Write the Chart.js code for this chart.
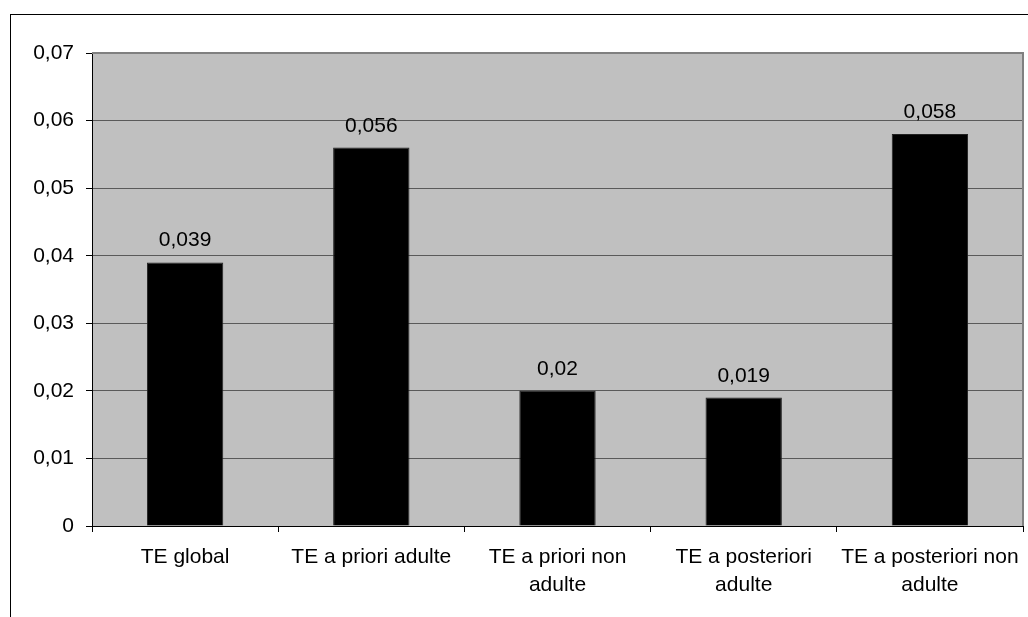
<!DOCTYPE html>
<html>
<head>
<meta charset="utf-8">
<script src="https://cdn.jsdelivr.net/npm/chart.js@4"></script>
<style>
  html, body { margin: 0; padding: 0; background: #fff; }
</style>
</head>
<body>
<canvas id="myChart" width="1028" height="617"></canvas>
<script>
var categories = [
    "TE global",
    "TE a priori adulte",
    ["TE a priori non", "adulte"],
    ["TE a posteriori", "adulte"],
    ["TE a posteriori non", "adulte"]
];
var values = [0.039, 0.056, 0.02, 0.019, 0.058];
var yTicks = [0, 0.01, 0.02, 0.03, 0.04, 0.05, 0.06, 0.07];

var fontFamily = "'Liberation Sans', Arial, sans-serif";

function commaNum(v) {
    return String(v).replace(".", ",");
}

// outer frame, grey plot background, right/top plot border
var framePlugin = {
    id: "frame",
    beforeDraw: function(chart) {
        var ctx = chart.ctx;
        var a = chart.chartArea;
        ctx.save();
        ctx.fillStyle = "#fff";
        ctx.fillRect(0, 0, chart.width, chart.height);
        ctx.strokeStyle = "#000";
        ctx.lineWidth = 1;
        ctx.strokeRect(10.5, 14.5, 1200, 800);
        ctx.fillStyle = "#c0c0c0";
        ctx.fillRect(a.left, a.top, a.right - a.left, a.bottom - a.top);
        ctx.restore();
    },
    afterDatasetsDraw: function(chart) {
        var ctx = chart.ctx;
        var a = chart.chartArea;
        ctx.save();
        ctx.strokeStyle = "#808080";
        ctx.lineWidth = 2;
        ctx.beginPath();
        ctx.moveTo(a.left, a.top);
        ctx.lineTo(a.right, a.top);
        ctx.lineTo(a.right, a.bottom);
        ctx.stroke();
        // value labels above bars
        var meta = chart.getDatasetMeta(0);
        ctx.fillStyle = "#000";
        ctx.font = "21px " + fontFamily;
        ctx.textAlign = "center";
        ctx.textBaseline = "alphabetic";
        meta.data.forEach(function(bar, i) {
            ctx.fillText(commaNum(values[i]), bar.x, bar.y - 16);
        });
        ctx.restore();
    }
};

var config = {
    type: "bar",
    data: {
        labels: categories,
        datasets: [{
            data: values,
            backgroundColor: "#000",
            borderColor: "#222",
            borderWidth: 1,
            barPercentage: 0.41,
            categoryPercentage: 1
        }]
    },
    options: {
        responsive: false,
        animation: false,
        layout: { padding: { top: 53, right: 5, left: 0, bottom: 0 } },
        plugins: {
            legend: { display: false },
            tooltip: { enabled: false }
        },
        scales: {
            x: {
                grid: {
                    offset: true,
                    drawOnChartArea: false,
                    tickLength: 6,
                    color: "#000"
                },
                border: { color: "#000", width: 1 },
                ticks: {
                    color: "#000",
                    padding: 12,
                    maxRotation: 0,
                    autoSkip: false,
                    font: { family: fontFamily, size: 21, lineHeight: 1.3 }
                },
                afterFit: function(scale) {
                    scale.height = 91;
                    scale.paddingLeft = 0;
                    scale.paddingRight = 0;
                }
            },
            y: {
                min: 0,
                max: 0.07,
                afterBuildTicks: function(scale) {
                    scale.ticks = yTicks.map(function(v) { return { value: v }; });
                },
                grid: {
                    color: "#5a5a5a",
                    tickColor: "#000",
                    tickLength: 6
                },
                border: { color: "#000", width: 1 },
                ticks: {
                    color: "#000",
                    padding: 12,
                    font: { family: fontFamily, size: 21 },
                    callback: function(v) { return commaNum(Math.round(v * 100) / 100); }
                },
                afterFit: function(scale) { scale.width = 92; }
            }
        }
    },
    plugins: [framePlugin]
};

new Chart(document.getElementById("myChart").getContext("2d"), config);
</script>
</body>
</html>
